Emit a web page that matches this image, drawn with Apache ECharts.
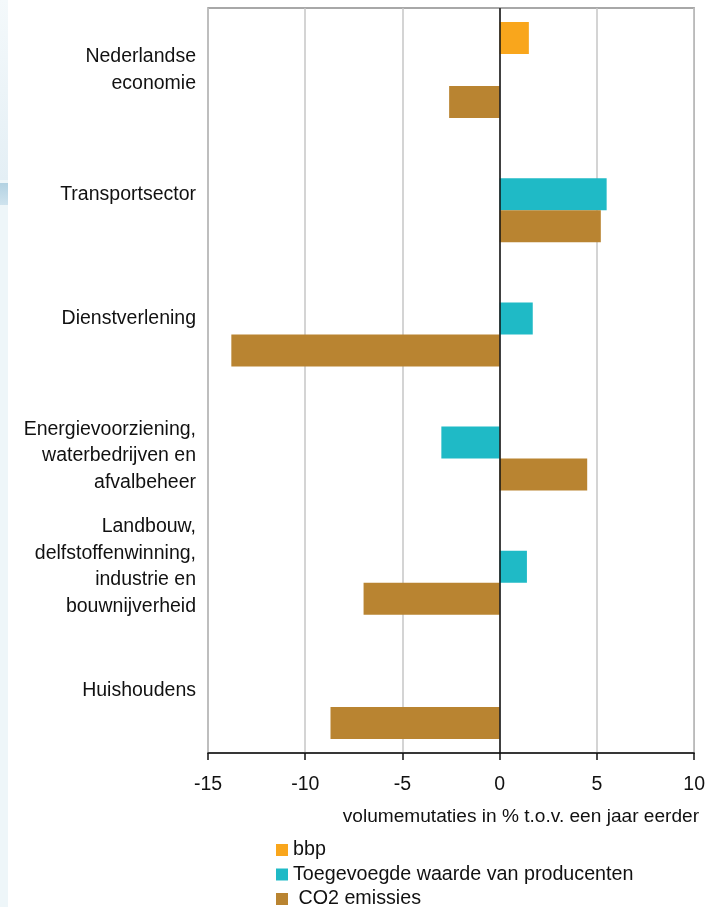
<!DOCTYPE html>
<html>
<head>
<meta charset="utf-8">
<script src="https://cdn.jsdelivr.net/npm/echarts@6/dist/echarts.min.js"></script>
<style>
  html, body { margin: 0; padding: 0; background: #ffffff; }
  #chart { width: 708px; height: 907px; }
</style>
</head>
<body>
<div id="chart"></div>
<script>
// Sectors, top to bottom
const categories = [
  'Nederlandse\neconomie',
  'Transportsector',
  'Dienstverlening',
  '\nEnergievoorziening,\nwaterbedrijven en\nafvalbeheer',
  'Landbouw,\ndelfstoffenwinning,\nindustrie en\nbouwnijverheid',
  'Huishoudens'
];

// Volume changes in % compared with the previous year
const bbp = [1.5, null, null, null, null, null];
const toegevoegdeWaarde = [null, 5.5, 1.7, -3.0, 1.4, null];
const co2Emissies = [-2.6, 5.2, -13.8, 4.5, -7.0, -8.7];

const xTicks = { min: -15, max: 10, interval: 5 };
const seriesNames = ['bbp', 'Toegevoegde waarde van producenten', 'CO2 emissies'];
const axisTitle = 'volumemutaties in % t.o.v. een jaar eerder';

const FONT = '"Liberation Sans", Arial, sans-serif';
const chart = echarts.init(document.getElementById('chart'), null, { renderer: 'canvas' });

// one legend row per series, stacked under the axis title
const legendRows = seriesNames.map((name, i) => ({
  orient: 'vertical',
  left: 276, top: 840 + i * 24.5,
  padding: 0,
  itemWidth: 12, itemHeight: 12, itemGap: 0,
  icon: 'rect',
  selectedMode: false,
  textStyle: { fontFamily: FONT, fontSize: 19.7, color: '#111' },
  formatter: n => (n === 'CO2 emissies' ? ' ' + n : n),
  data: [name]
}));

chart.setOption({
  backgroundColor: '#ffffff',
  animation: false,
  textStyle: { fontFamily: FONT },
  grid: {
    left: 208, right: 13, top: 8, bottom: 154,
    show: true, borderColor: '#8c8c8c', borderWidth: 1.5,
    backgroundColor: 'transparent'
  },
  legend: legendRows,
  xAxis: {
    type: 'value',
    min: xTicks.min, max: xTicks.max, interval: xTicks.interval,
    axisLine: { show: true, onZero: false, lineStyle: { color: '#111', width: 1.5 } },
    axisTick: { show: true, length: 7, lineStyle: { color: '#111', width: 1.5 } },
    axisLabel: { margin: 22, fontFamily: FONT, fontSize: 19.5, color: '#111' },
    splitLine: { show: true, lineStyle: { color: '#c6c6c6', width: 1.5 } }
  },
  yAxis: {
    type: 'category',
    inverse: true,
    data: categories,
    axisLine: { show: false, onZero: false },
    axisTick: { show: false },
    splitLine: { show: false },
    axisLabel: {
      margin: 12, fontFamily: FONT, fontSize: 19.5, lineHeight: 26.5,
      color: '#111', align: 'right'
    }
  },
  graphic: [
    // soft blue strip on the left edge
    { type: 'rect', left: 0, top: 0, shape: { width: 8, height: 907 }, style: { fill: '#eef6f9' }, z: -10 },
    { type: 'rect', left: 0, top: 0, shape: { width: 8, height: 180 },
      style: { fill: new echarts.graphic.LinearGradient(0, 0, 0, 1, [
        { offset: 0, color: '#f4f9fb' }, { offset: 1, color: '#e4eff5' }]) }, z: -9 },
    { type: 'rect', left: 0, top: 183, shape: { width: 8, height: 22 },
      style: { fill: new echarts.graphic.LinearGradient(0, 0, 0, 1, [
        { offset: 0, color: '#b3d2e2' }, { offset: 1, color: '#cfe3ee' }]) }, z: -9 },
    {
      type: 'text', right: 9, top: 807,
      style: { text: axisTitle, font: '19.1px ' + FONT, fill: '#111', textAlign: 'right' }
    }
  ],
  series: [
    {
      name: seriesNames[0], type: 'bar', data: bbp,
      barWidth: 32, barGap: 0,
      itemStyle: { color: '#f9a61c' }
    },
    {
      name: seriesNames[1], type: 'bar', data: toegevoegdeWaarde,
      barWidth: 32, barGap: 0,
      itemStyle: { color: '#1fbac6' }
    },
    {
      name: seriesNames[2], type: 'bar', data: co2Emissies,
      barWidth: 32, barGap: 0,
      itemStyle: { color: '#b98431' },
      markLine: {
        silent: true, symbol: 'none', label: { show: false },
        lineStyle: { color: '#111', width: 1.5, type: 'solid' },
        data: [{ xAxis: 0 }],
        z: 10
      }
    }
  ]
});
</script>
</body>
</html>
